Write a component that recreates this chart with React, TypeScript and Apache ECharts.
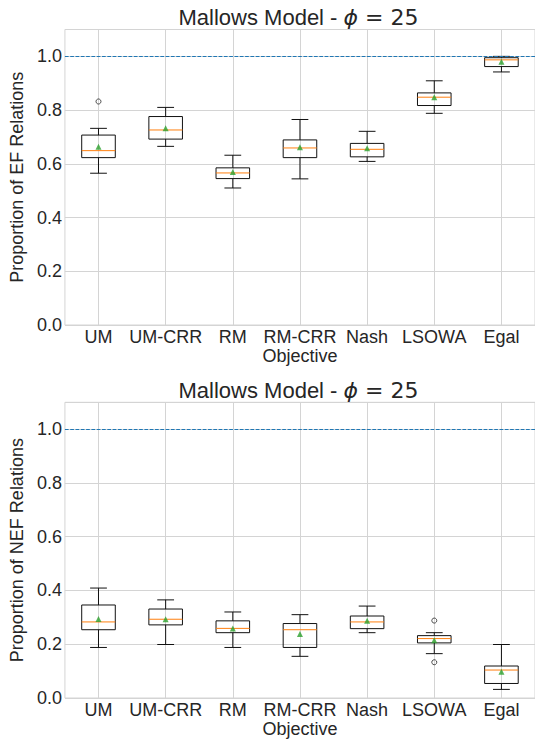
import React, { useEffect, useRef } from 'react';
import * as echarts from 'echarts';

const categories = ['UM', 'UM-CRR', 'RM', 'RM-CRR', 'Nash', 'LSOWA', 'Egal'];

// Top panel: Proportion of EF Relations
const efMin = [0.565, 0.665, 0.51, 0.544, 0.609, 0.788, 0.942];
const efQ1 = [0.623, 0.692, 0.545, 0.623, 0.626, 0.817, 0.962];
const efMedian = [0.649, 0.726, 0.566, 0.659, 0.654, 0.848, 0.987];
const efQ3 = [0.707, 0.776, 0.585, 0.689, 0.676, 0.864, 0.995];
const efMax = [0.732, 0.81, 0.632, 0.765, 0.721, 0.909, 1.0];
const efMean = [0.664, 0.732, 0.57, 0.662, 0.658, 0.848, 0.98];
const efOutliers = [[0, 0.832]];

// Bottom panel: Proportion of NEF Relations
const nefMin = [0.188, 0.199, 0.188, 0.155, 0.243, 0.165, 0.032];
const nefQ1 = [0.254, 0.272, 0.243, 0.188, 0.258, 0.205, 0.054];
const nefMedian = [0.283, 0.293, 0.259, 0.254, 0.283, 0.221, 0.104];
const nefQ3 = [0.346, 0.331, 0.287, 0.277, 0.305, 0.232, 0.119];
const nefMax = [0.409, 0.365, 0.32, 0.31, 0.342, 0.243, 0.199];
const nefMean = [0.294, 0.293, 0.259, 0.238, 0.287, 0.215, 0.098];
const nefOutliers = [[5, 0.288], [5, 0.133]];

const yTickMin = 0;
const yTickMax = 1.1;
const yTickInterval = 0.2;
const referenceLine = 1.0;

const titleText = '{a|Mallows Model - }{b|ϕ}{c| = 25}';
const yNames = ['Proportion of EF Relations', 'Proportion of NEF Relations'];
const xName = 'Objective';

const TEXT = '#262626';
const GRID = '#d4d4d4';
const FONT = 'Liberation Sans, Arial, sans-serif';

function boxData(mins: number[], q1: number[], med: number[], q3: number[], maxs: number[]) {
  return categories.map((_, i) => [i, mins[i], q1[i], med[i], q3[i], maxs[i]]);
}

const renderBox = (params: any, api: any) => {
  const i = api.value(0);
  const band = api.size([1, 0])[0];
  const hw = band * 0.25;
  const cw = band * 0.125;
  const pMin = api.coord([i, api.value(1)]);
  const pQ1 = api.coord([i, api.value(2)]);
  const pMed = api.coord([i, api.value(3)]);
  const pQ3 = api.coord([i, api.value(4)]);
  const pMax = api.coord([i, api.value(5)]);
  const x = pMed[0];
  const s = { stroke: '#111', lineWidth: 1, fill: 'none' };
  return {
    type: 'group',
    children: [
      { type: 'line', shape: { x1: x, y1: pQ1[1], x2: x, y2: pMin[1] }, style: s },
      { type: 'line', shape: { x1: x, y1: pQ3[1], x2: x, y2: pMax[1] }, style: s },
      { type: 'line', shape: { x1: x - cw, y1: pMin[1], x2: x + cw, y2: pMin[1] }, style: s },
      { type: 'line', shape: { x1: x - cw, y1: pMax[1], x2: x + cw, y2: pMax[1] }, style: s },
      {
        type: 'rect',
        shape: { x: x - hw, y: pQ3[1], width: 2 * hw, height: pQ1[1] - pQ3[1] },
        style: { stroke: '#111', lineWidth: 1, fill: 'none' },
      },
      {
        type: 'line',
        shape: { x1: x - hw, y1: pMed[1], x2: x + hw, y2: pMed[1] },
        style: { stroke: '#ff7f0e', lineWidth: 1 },
      },
    ],
  };
};

function makeAxes(idx: number) {
  const xAxis = {
    type: 'category',
    gridIndex: idx,
    data: categories,
    boundaryGap: true,
    name: xName,
    nameLocation: 'middle',
    nameGap: 21,
    nameTextStyle: { fontFamily: FONT, fontSize: 18, color: TEXT },
    axisLine: { show: false },
    axisTick: { show: false, alignWithLabel: true },
    axisLabel: { fontFamily: FONT, fontSize: 18, color: TEXT, margin: 3, interval: 0 },
    splitLine: { show: true, alignWithLabel: true, lineStyle: { color: GRID, width: 1 } },
  };
  const yAxis = {
    type: 'value',
    gridIndex: idx,
    min: yTickMin,
    max: yTickMax,
    interval: yTickInterval,
    name: yNames[idx],
    nameLocation: 'middle',
    nameGap: 31,
    nameTextStyle: { fontFamily: FONT, fontSize: 18, color: TEXT },
    axisLine: { show: false },
    axisTick: { show: false },
    axisLabel: {
      fontFamily: FONT,
      fontSize: 18,
      color: TEXT,
      margin: 3,
      showMaxLabel: false,
      formatter: (v: number) => v.toFixed(1),
    },
    splitLine: { show: true, lineStyle: { color: GRID, width: 1 } },
  };
  return { xAxis, yAxis };
}

function makeSeries(idx: number, boxes: number[][], means: number[], outliers: number[][]) {
  return [
    {
      type: 'custom',
      xAxisIndex: idx,
      yAxisIndex: idx,
      renderItem: renderBox,
      encode: { x: 0, y: [1, 2, 3, 4, 5] },
      data: boxes,
      z: 3,
    },
    {
      type: 'scatter',
      xAxisIndex: idx,
      yAxisIndex: idx,
      symbol: 'triangle',
      symbolSize: 6,
      itemStyle: { color: '#2ca02c' },
      data: means.map((m, i) => [i, m]),
      z: 5,
      markLine: {
        silent: true,
        z: 6,
        symbol: ['none', 'none'],
        label: { show: false },
        lineStyle: { color: '#1f77b4', type: [3.7, 1.6], width: 1, opacity: 1 },
        data: [{ yAxis: referenceLine }],
      },
    },
    {
      type: 'scatter',
      xAxisIndex: idx,
      yAxisIndex: idx,
      symbol: 'circle',
      symbolSize: 5,
      itemStyle: { color: 'rgba(0,0,0,0)', borderColor: '#222', borderWidth: 1 },
      data: outliers,
      z: 4,
    },
  ];
}

export default function App() {
  const ref = useRef<HTMLDivElement>(null);
  useEffect(() => {
    if (!ref.current) return;
    const chart = echarts.init(ref.current, undefined, { renderer: 'svg' });
    const a0 = makeAxes(0);
    const a1 = makeAxes(1);
    const titleStyle = (y: number) => ({
      type: 'text',
      x: 298.5,
      y,
      style: {
        text: titleText,
        align: 'center',
        verticalAlign: 'middle',
        fill: TEXT,
        rich: {
          a: { fontFamily: FONT, fontSize: 22, color: TEXT },
          b: { fontFamily: 'DejaVu Sans', fontStyle: 'italic', fontSize: 22, color: TEXT },
          c: { fontFamily: 'DejaVu Sans', fontSize: 22, color: TEXT },
        },
      },
    });
    chart.setOption({
      animation: false,
      backgroundColor: '#ffffff',
      grid: [
        { left: 59.5, top: 29.5, width: 478, height: 295.5, show: true, borderColor: GRID, borderWidth: 1, backgroundColor: 'transparent' },
        { left: 59.5, top: 402.3, width: 478, height: 295.7, show: true, borderColor: GRID, borderWidth: 1, backgroundColor: 'transparent' },
      ],
      xAxis: [a0.xAxis, a1.xAxis],
      yAxis: [a0.yAxis, a1.yAxis],
      graphic: [titleStyle(17.5), titleStyle(390.5)],
      series: [
        ...makeSeries(0, boxData(efMin, efQ1, efMedian, efQ3, efMax), efMean, efOutliers),
        ...makeSeries(1, boxData(nefMin, nefQ1, nefMedian, nefQ3, nefMax), nefMean, nefOutliers),
      ],
    });
    return () => chart.dispose();
  }, []);
  return (
    <div
      ref={ref}
      style={{ position: 'fixed', left: 0, top: 0, width: 535, height: 745, background: '#fff' }}
    />
  );
}
